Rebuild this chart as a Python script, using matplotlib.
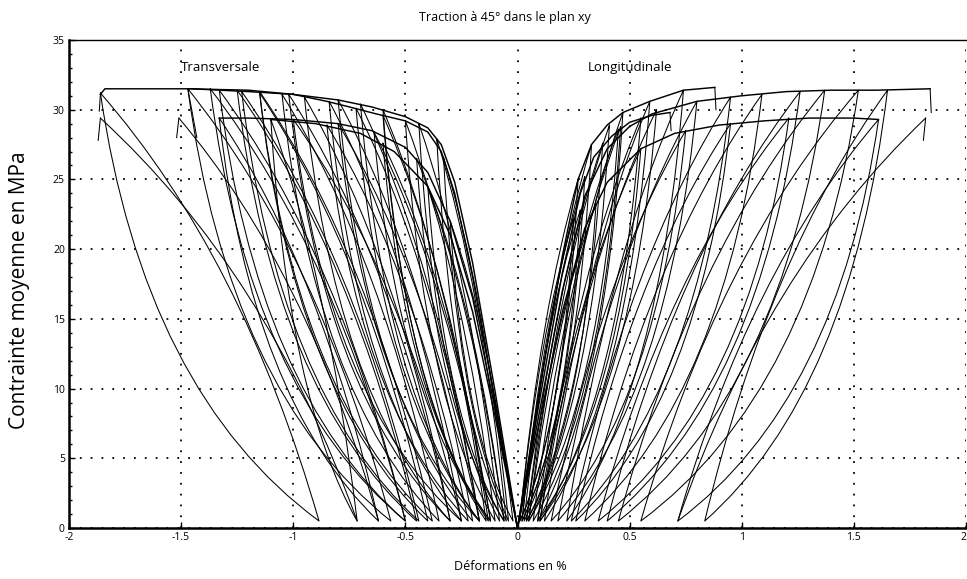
import numpy as np
import matplotlib
matplotlib.use("Agg")
import matplotlib.pyplot as plt
from matplotlib.path import Path
from matplotlib.patches import PathPatch

# ---------------- data ----------------
title = "Traction à 45° dans le plan xy"
xlabel = "Déformations en %"
ylabel = "Contrainte moyenne en MPa"
label_left = "Transversale"
label_right = "Longitudinale"
xticks = [-2, -1.5, -1, -0.5, 0, 0.5, 1, 1.5, 2]
xtick_labels = ["-2", "-1.5", "-1", "-0.5", "0", "0.5", "1", "1.5", "2"]
yticks = [0, 5, 10, 15, 20, 25, 30, 35]

RES_Y = 0.5  # stress at the end of each unloading (MPa)

# ---- Longitudinale (positive strain) ----
A_env_x = [0, 0.1, 0.2, 0.3, 0.4, 0.5, 0.6, 0.8, 1.0, 1.2, 1.4, 1.6, 1.84]
A_env_y = [0, 8.5, 17.0, 23.8, 27.2, 28.8, 29.7, 30.6, 31.0, 31.3, 31.4, 31.4, 31.5]
A_pk_x = [0.28, 0.45, 0.62, 0.80, 0.95, 1.09, 1.26, 1.37, 1.52, 1.65]
A_pk_y = [22.8, 28.6, 30.0, 30.6, 30.9, 31.1, 31.3, 31.4, 31.4, 31.4]
A_res_x = [0.02, 0.05, 0.10, 0.18, 0.24, 0.30, 0.40, 0.45, 0.55, 0.835]
A_hook = [(1.84, 31.5), (1.845, 29.8)]

B_env_x = [0, 0.1, 0.2, 0.3, 0.4, 0.55, 0.7, 0.9, 1.1, 1.3, 1.5, 1.61]
B_env_y = [0, 7.8, 15.5, 21.5, 24.8, 27.2, 28.3, 28.9, 29.2, 29.4, 29.4, 29.3]
B_pk_x = [0.35, 0.55, 0.75, 0.95, 1.21, 1.61]
B_pk_y = [23.2, 27.2, 28.5, 29.0, 29.4, 29.3]
B_res_x = [0.04, 0.09, 0.15, 0.26, 0.36, 0.715]
B_final = (1.82, 29.4)
B_hook = [(1.82, 29.4), (1.81, 27.8)]

C_env_x = [0, 0.1, 0.2, 0.27, 0.33, 0.40, 0.47, 0.59, 0.74, 0.88]
C_env_y = [0, 10.0, 19.5, 25.0, 27.5, 28.9, 29.8, 30.6, 31.4, 31.6]
C_pk_x = [0.27, 0.33, 0.41, 0.47, 0.59, 0.74]
C_pk_y = [25.0, 27.5, 28.9, 29.8, 30.6, 31.4]
C_res_x = [0.01, 0.03, 0.05, 0.09, 0.12, 0.22]
C_hook = [(0.88, 31.6), (0.885, 30.0)]

D_env_x = [0, 0.1, 0.2, 0.28, 0.34, 0.42, 0.5, 0.6, 0.68]
D_env_y = [0, 9.3, 18.3, 24.0, 26.6, 28.1, 29.1, 29.6, 29.8]
D_pk_x = [0.25, 0.30, 0.38, 0.46, 0.55]
D_pk_y = [22.2, 25.2, 27.6, 28.8, 29.4]
D_res_x = [0.01, 0.02, 0.04, 0.07, 0.10]
D_hook = [(0.68, 29.8), (0.685, 28.5)]

# ---- Transversale (negative strain) ----
At_env_x = [0, -0.1, -0.2, -0.28, -0.34, -0.4, -0.5, -0.63, -0.75, -0.85, -1.0, -1.2, -1.45, -1.65, -1.84, -1.86]
At_env_y = [0, 9.0, 18.0, 24.0, 27.0, 28.4, 29.2, 29.7, 30.2, 30.6, 31.1, 31.3, 31.5, 31.5, 31.5, 31.1]
At_pk_x = [-0.33, -0.50, -0.60, -0.72, -0.84, -0.95, -1.05, -1.15, -1.23, -1.33, -1.47, -1.86]
At_pk_y = [26.6, 29.2, 29.6, 30.1, 30.6, 30.9, 31.1, 31.2, 31.3, 31.4, 31.5, 31.2]
At_res_x = [-0.04, -0.10, -0.13, -0.17, -0.25, -0.30, -0.35, -0.40, -0.44, -0.50, -0.565, -0.885]
At_hook = [(-1.86, 31.1), (-1.865, 29.9)]

Ct_env_x = [0, -0.1, -0.2, -0.28, -0.34, -0.4, -0.5, -0.65, -0.8, -1.0, -1.2, -1.47]
Ct_env_y = [0, 9.8, 19.0, 24.8, 27.5, 28.7, 29.5, 30.2, 30.7, 31.1, 31.4, 31.5]
Ct_pk_x = [-0.36, -0.44, -0.60, -0.70, -0.80, -1.02, -1.15, -1.25, -1.37]
Ct_pk_y = [27.9, 29.0, 30.0, 30.4, 30.7, 31.1, 31.3, 31.4, 31.5]
Ct_res_x = [-0.05, -0.08, -0.14, -0.17, -0.20, -0.30, -0.38, -0.45, -0.50]
Ct_hook = [(-1.47, 31.5), (-1.43, 28.0)]

Bt_env_x = [0, -0.1, -0.2, -0.3, -0.4, -0.55, -0.7, -0.9, -1.1]
Bt_env_y = [0, 8.0, 15.5, 21.0, 24.5, 27.0, 28.3, 29.0, 29.3]
Bt_pk_x = [-0.40, -0.60, -0.85, -1.10]
Bt_pk_y = [24.5, 27.6, 28.9, 29.3]
Bt_res_x = [-0.06, -0.12, -0.22, -0.715]
Bt_final = (-1.86, 29.4)
Bt_hook = [(-1.86, 29.4), (-1.87, 27.8)]

Dt_env_x = [0, -0.1, -0.2, -0.3, -0.4, -0.5, -0.65, -0.8, -1.0, -1.2, -1.33]
Dt_env_y = [0, 8.5, 16.5, 22.0, 25.5, 27.3, 28.5, 29.0, 29.3, 29.4, 29.4]
Dt_pk_x = [-0.30, -0.45, -0.64, -0.80, -1.00, -1.33]
Dt_pk_y = [22.0, 26.5, 28.4, 29.0, 29.3, 29.4]
Dt_res_x = [-0.02, -0.06, -0.12, -0.17, -0.25, -0.62]
Dt_final = (-1.51, 29.4)
Dt_hook = [(-1.51, 29.4), (-1.52, 28.0)]

# ---------------- style ----------------
LW = 0.75
ENV_LW = 1.05
COL = "black"
# shape of the loop branches (fraction of the chord)
UA, UB = 0.20, 0.70   # unloading: steep at the peak, flatter at the foot
RA, RB = 0.35, 0.62   # reloading: steep at the foot, flattening at the top

plt.rcParams["font.family"] = ["Open Sans", "DejaVu Sans"]

fig = plt.figure(figsize=(9.67, 5.79), dpi=100)
ax = fig.add_axes([69 / 967, 1 - 528 / 579, (966 - 69) / 967, (528 - 40) / 579])


def add_curve(verts, codes):
    ax.add_patch(PathPatch(Path(verts, codes), fill=False, lw=LW, ec=COL,
                           capstyle="round", joinstyle="round"))


def lens(px, py, rx, ry):
    ux, uy = px + UA * (rx - px), py + UB * (ry - py)
    vx, vy = rx + RA * (px - rx), ry + RB * (py - ry)
    add_curve([(px, py), (ux, uy), (rx, ry), (vx, vy), (px, py)],
              [Path.MOVETO, Path.CURVE3, Path.CURVE3, Path.CURVE3, Path.CURVE3])


def reload(rx, ry, fx, fy):
    vx, vy = rx + RA * (fx - rx), ry + RB * (fy - ry)
    add_curve([(rx, ry), (vx, vy), (fx, fy)],
              [Path.MOVETO, Path.CURVE3, Path.CURVE3])


def specimen(env_x, env_y, pk_x, pk_y, res_x, hook, final=None):
    ax.plot(env_x, env_y, color=COL, lw=ENV_LW, solid_joinstyle="round")
    for px, py, rx in zip(pk_x, pk_y, res_x):
        lens(px, py, rx, RES_Y)
    if final is not None:
        reload(res_x[-1], RES_Y, final[0], final[1])
    hx, hy = zip(*hook)
    ax.plot(hx, hy, color=COL, lw=LW)


specimen(A_env_x, A_env_y, A_pk_x, A_pk_y, A_res_x, A_hook)
specimen(B_env_x, B_env_y, B_pk_x, B_pk_y, B_res_x, B_hook, B_final)
specimen(C_env_x, C_env_y, C_pk_x, C_pk_y, C_res_x, C_hook)
specimen(D_env_x, D_env_y, D_pk_x, D_pk_y, D_res_x, D_hook)
specimen(At_env_x, At_env_y, At_pk_x, At_pk_y, At_res_x, At_hook)
specimen(Ct_env_x, Ct_env_y, Ct_pk_x, Ct_pk_y, Ct_res_x, Ct_hook)
specimen(Bt_env_x, Bt_env_y, Bt_pk_x, Bt_pk_y, Bt_res_x, Bt_hook, Bt_final)
specimen(Dt_env_x, Dt_env_y, Dt_pk_x, Dt_pk_y, Dt_res_x, Dt_hook, Dt_final)

# ---------------- axes ----------------
ax.set_xlim(-2, 2)
ax.set_ylim(0, 35)
ax.set_xticks(xticks)
ax.set_xticklabels(xtick_labels)
ax.set_yticks(yticks)
ax.set_yticks(np.arange(0, 36, 1), minor=True)
ax.tick_params(axis="both", which="major", direction="in", length=4, width=1,
               labelsize=7.5, pad=3, colors="black")
ax.tick_params(axis="y", which="minor", direction="in", length=2, width=1)
# keep the last x label (at the right edge of the figure) fully visible
ax.get_xticklabels()[-1].set_horizontalalignment("right")
ax.grid(True, which="major", color="black", linestyle=(0, (1, 5)), linewidth=1.3)
ax.set_axisbelow(True)
for s in ("left", "bottom"):
    ax.spines[s].set_linewidth(1.8)
ax.spines["top"].set_linewidth(1.0)
ax.spines["right"].set_visible(False)

ax.text(-1.5, 33.0, label_left, fontsize=9.5, ha="left", va="center")
ax.text(0.5, 33.0, label_right, fontsize=9.5, ha="center", va="center")

fig.text(505 / 967, 1 - 17 / 579, title, fontsize=9, ha="center", va="center")
fig.text(510 / 967, 1 - 566 / 579, xlabel, fontsize=9, ha="center", va="center")
fig.text(20 / 967, 1 - 290 / 579, ylabel, fontsize=15, ha="center", va="center",
         rotation=90)

fig.savefig("out.png", dpi=100)
